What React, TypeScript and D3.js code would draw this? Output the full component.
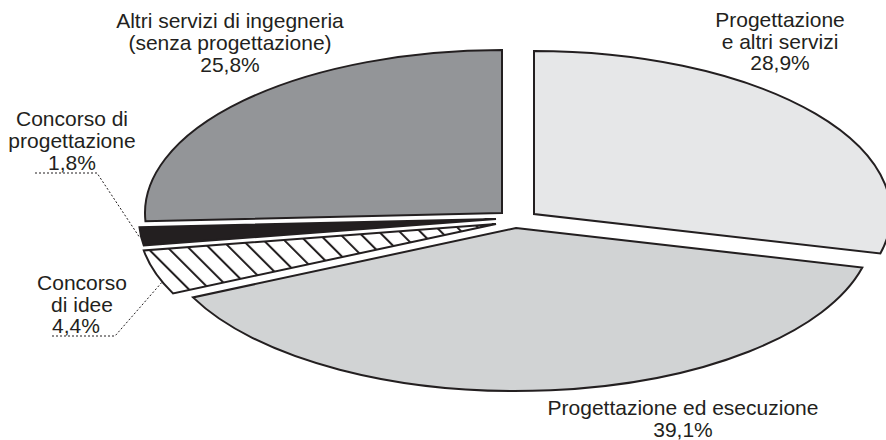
import React from "react";
import * as d3 from "d3";

// ---- data ----
const categories = [
  "Progettazione e altri servizi",
  "Progettazione ed esecuzione",
  "Concorso di idee",
  "Concorso di progettazione",
  "Altri servizi di ingegneria (senza progettazione)",
];
const values = [28.9, 39.1, 4.4, 1.8, 25.8];
const labelLines = [
  ["Progettazione", "e altri servizi", "28,9%"],
  ["Progettazione ed esecuzione", "39,1%"],
  ["Concorso", "di idee", "4,4%"],
  ["Concorso di", "progettazione", "1,8%"],
  ["Altri servizi di ingegneria", "(senza progettazione)", "25,8%"],
];

// ---- layout / style ----
const W = 886;
const H = 440;
const CX = 512;
const CY = 219;
const RX = 357;
const RY = 163;
const explode: [number, number][] = [
  [22, -5],
  [4, 9],
  [-16, 5],
  [-16, 0],
  [-10, -6],
];
const fills = ["#e6e7e8", "#d1d3d4", "url(#hatch)", "#231f20", "#939598"];
const labelPos: { x: number; ys: number[]; dx?: number[] }[] = [
  { x: 780, ys: [27, 49, 70] },
  { x: 683, ys: [415, 437] },
  { x: 82, ys: [290, 312, 333], dx: [0, 0, -6] },
  { x: 72, ys: [126, 148, 170] },
  { x: 230, ys: [28, 50, 72] },
];
const leaders: ([number, number][] | null)[] = [
  null,
  null,
  [
    [52, 336],
    [115, 336],
    [163, 281],
  ],
  [
    [35, 173],
    [97, 173],
    [140, 238],
  ],
  null,
];
const INK = "#231f20";
const FONT = "'Liberation Sans', Arial, Helvetica, sans-serif";

export default function App() {
  const pie = d3
    .pie<number>()
    .sort(null)
    .startAngle(0)
    .endAngle(2 * Math.PI)
    .value((d) => d);
  const arcs = pie(values);

  const ellipsePt = (ax: number, ay: number, a: number): [number, number] => [
    ax + RX * Math.sin(a),
    ay - RY * Math.cos(a),
  ];

  const slicePath = (i: number) => {
    const a = arcs[i];
    const ax = CX + explode[i][0];
    const ay = CY + explode[i][1];
    const p0 = ellipsePt(ax, ay, a.startAngle);
    const p1 = ellipsePt(ax, ay, a.endAngle);
    const large = a.endAngle - a.startAngle > Math.PI ? 1 : 0;
    return `M${ax},${ay}L${p0[0]},${p0[1]}A${RX},${RY} 0 ${large} 1 ${p1[0]},${p1[1]}Z`;
  };

  const line = d3.line();

  return (
    <svg
      width={W}
      height={H}
      style={{ position: "absolute", left: 0, top: 0, background: "#fff" }}
    >
      <defs>
        <pattern
          id="hatch"
          patternUnits="userSpaceOnUse"
          width={14.6}
          height={14.6}
          patternTransform="rotate(-45)"
        >
          <rect width={14.6} height={14.6} fill="#fff" />
          <line x1={2} y1={0} x2={2} y2={14.6} stroke={INK} strokeWidth={2} />
        </pattern>
      </defs>
      {arcs.map((a, i) => (
        <path
          key={categories[i]}
          d={slicePath(i)}
          fill={fills[i]}
          stroke={INK}
          strokeWidth={2}
          strokeLinejoin="miter"
        />
      ))}
      {leaders.map((pts, i) =>
        pts ? (
          <path
            key={"l" + i}
            d={line(pts) || ""}
            fill="none"
            stroke={INK}
            strokeWidth={1}
            strokeDasharray="2,2"
          />
        ) : null
      )}
      {labelLines.map((lines, i) => (
        <text
          key={"t" + i}
          fontFamily={FONT}
          fontSize={21}
          fill={INK}
          textAnchor="middle"
        >
          {lines.map((s, j) => (
            <tspan
              key={j}
              x={labelPos[i].x + (labelPos[i].dx ? labelPos[i].dx![j] : 0)}
              y={labelPos[i].ys[j]}
            >
              {s}
            </tspan>
          ))}
        </text>
      ))}
    </svg>
  );
}
